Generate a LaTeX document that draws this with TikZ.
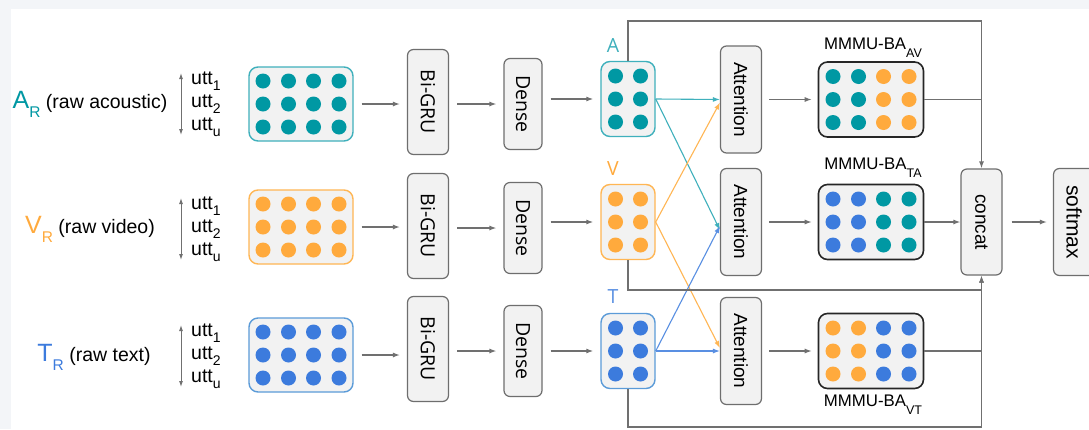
\documentclass[tikz,border=0pt]{standalone}
\usepackage{fontspec}
\setmainfont{Liberation Sans}
\newfontfamily\osans{Open Sans}
\usepackage{graphicx}
\usetikzlibrary{positioning}
\usetikzlibrary{arrows.meta}
\usetikzlibrary{calc}

\definecolor{bggray}{HTML}{F3F5F8}
\definecolor{boxfill}{HTML}{F2F2F2}
\definecolor{boxgray}{HTML}{6E6E6E}
\definecolor{linegray}{HTML}{707070}
\definecolor{tealc}{HTML}{0098A3}
\definecolor{orangec}{HTML}{FFAA3D}
\definecolor{bluec}{HTML}{3C7BDD}
\definecolor{tealb}{HTML}{3FB0BC}
\definecolor{orangeb}{HTML}{FFB654}
\definecolor{blueb}{HTML}{5B9BD8}

\newcommand{\vtext}[1]{\rotatebox{-90}{#1}}
\newcommand{\modal}[2]{\textcolor{#1}{\fontsize{25}{25}\selectfont #2\raisebox{-9pt}{\fontsize{15.5}{16}\selectfont R}}}
\newcommand{\utt}[1]{utt\raisebox{-6pt}{\fontsize{14}{14}\selectfont #1}}
\newcommand{\mmmu}[1]{MMMU-BA\raisebox{-8pt}{\fontsize{12.5}{13}\selectfont #1}}
\newcommand{\dotgrid}[2]{%
  \foreach \dx/\dcol in {#2}
    \foreach \dy in {-23,0,23}
      \fill[\dcol] ([shift={(\dx,\dy)}]#1.center) circle (7.5pt);
}

\tikzset{
  layer/.style={draw=boxgray, fill=boxfill, line width=1.2pt, rounded corners=6pt,
    minimum width=41pt, minimum height=105pt, inner sep=0pt,
    font=\fontsize{19}{20}\selectfont},
  inmat/.style={fill=boxfill, line width=1.4pt, rounded corners=9pt,
    minimum width=104pt, minimum height=74pt, inner sep=0pt},
  smallmat/.style={inmat, minimum width=54pt, minimum height=75pt},
  bamat/.style={inmat, draw=black!85, line width=1.6pt, minimum width=105pt, minimum height=75pt},
  flow/.style={draw=linegray, line width=1.2pt, -{Latex[length=7pt,width=5pt]},
    shorten <=8pt, shorten >=7pt},
  skip/.style={draw=linegray, line width=1.2pt, -{Latex[length=7pt,width=5pt]}},
  cross/.style={line width=1.1pt, -{Latex[length=7pt,width=5pt]}},
  both/.style={draw=linegray, line width=1pt, {Latex[length=6pt,width=4pt]}-{Latex[length=6pt,width=4pt]}},
  inlabel/.style={anchor=base, inner sep=0pt, font=\fontsize{19.5}{22}\selectfont},
  uttlabel/.style={anchor=base west, inner sep=0pt, font=\fontsize{19.5}{22}\selectfont},
  modlabel/.style={anchor=base, inner sep=0pt, font=\osans\fontsize{19.5}{22}\selectfont},
  balabel/.style={anchor=base, inner sep=0pt, font=\fontsize{16.8}{18}\selectfont}
}

\begin{document}
\begin{tikzpicture}[x=1pt,y=-1pt]
\useasboundingbox (0,0) rectangle (1089,429);
\fill[bggray] (0,0) rectangle (1089,429);
\fill[white] (11,9) rectangle (1089,429);

% raw inputs
\node[inlabel] (labA) at (90,108) {\modal{tealc}{A} (raw acoustic)};
\node[inlabel] (labV) at (90,233) {\modal{orangec}{V} (raw video)};
\node[inlabel] (labT) at (94,361) {\modal{bluec}{T} (raw text)};

\foreach \r/\y in {A/104,V/229,T/356}{
  \coordinate (up\r) at (181,\y-31);
  \coordinate (dn\r) at (181,\y+31);
  \draw[both] (up\r) -- (dn\r);
  \node[uttlabel] at (191,\y-20) {\utt{1}};
  \node[uttlabel] at (191,\y+3) {\utt{2}};
  \node[uttlabel] at (191,\y+26) {\utt{u}};
}

\node[inmat, draw=tealb] (inA) at (301,104) {};
\node[inmat, draw=orangeb] (inV) at (301,227) {};
\node[inmat, draw=blueb] (inT) at (301,355) {};
\dotgrid{inA}{-38/tealc,-12.5/tealc,12.5/tealc,38/tealc}
\dotgrid{inV}{-38/orangec,-12.5/orangec,12.5/orangec,38/orangec}
\dotgrid{inT}{-38/bluec,-12.5/bluec,12.5/bluec,38/bluec}

% Bi-GRU and Dense
\node[layer, font=\osans\fontsize{19.5}{20}\selectfont] (gruA) at (428,102) {\vtext{Bi-GRU}};
\node[layer, font=\osans\fontsize{19.5}{20}\selectfont] (gruV) at (428,226) {\vtext{Bi-GRU}};
\node[layer, font=\osans\fontsize{19.5}{20}\selectfont] (gruT) at (428,349) {\vtext{Bi-GRU}};
\node[layer, minimum width=38pt, minimum height=91pt, font=\osans\fontsize{19.5}{20}\selectfont] (denA) at (523,104) {\vtext{Dense}};
\node[layer, minimum width=38pt, minimum height=91pt, font=\osans\fontsize{19.5}{20}\selectfont] (denV) at (523,228) {\vtext{Dense}};
\node[layer, minimum width=38pt, minimum height=91pt, font=\osans\fontsize{19.5}{20}\selectfont] (denT) at (523,351) {\vtext{Dense}};

\node[smallmat, draw=tealb] (sA) at (628,99) {};
\node[smallmat, draw=orangeb] (sV) at (628,222) {};
\node[smallmat, draw=blueb] (sT) at (628,351) {};
\dotgrid{sA}{-12.5/tealc,12.5/tealc}
\dotgrid{sV}{-12.5/orangec,12.5/orangec}
\dotgrid{sT}{-12.5/bluec,12.5/bluec}
\node[modlabel, text=tealb] at (613,52) {A};
\node[modlabel, text=orangec] at (613,175) {V};
\node[modlabel, text=bluec!85] at (613,303) {T};

\foreach \r in {A,V,T}{
  \draw[flow] (in\r.east) -- (in\r.east -| gru\r.west);
  \draw[flow] (den\r.west -| gru\r.east) -- (den\r.west);
  \draw[flow] (s\r.west -| den\r.east) -- (s\r.west);
}

% attention
\node[layer, minimum height=107pt] (attA) at (741,99.5) {\vtext{Attention}};
\node[layer, minimum height=107pt] (attV) at (741,222) {\vtext{Attention}};
\node[layer, minimum height=107pt] (attT) at (741,351) {\vtext{Attention}};

\draw[cross, tealb] (sA.east) -- (attA.west);
\draw[cross, tealb] (sA.east) -- ([yshift=-8pt]attV.west);
\draw[cross, orangeb] (sV.east) -- ([yshift=-3pt]attA.west);
\draw[cross, orangeb] (sV.east) -- ([yshift=3pt]attT.west);
\draw[cross, bluec!85] (sT.east) -- ([yshift=-4pt]attV.west);
\draw[cross, bluec!85] (sT.east) -- (attT.west);

% MMMU-BA
\node[bamat] (mAV) at (871,99.5) {};
\node[bamat] (mTA) at (871,222) {};
\node[bamat] (mVT) at (871,351) {};
\dotgrid{mAV}{-38/tealc,-12.5/tealc,12.5/orangec,38/orangec}
\dotgrid{mTA}{-38/bluec,-12.5/bluec,12.5/tealc,38/tealc}
\dotgrid{mVT}{-38/orangec,-12.5/orangec,12.5/bluec,38/bluec}
\node[balabel] at (873,49) {\mmmu{AV}};
\node[balabel] at (873,169) {\mmmu{TA}};
\node[balabel] at (873,406) {\mmmu{VT}};

\draw[flow, shorten <=7pt, shorten >=6pt] (attA.east) -- (attA.east -| mAV.west);
\draw[flow, shorten <=7pt, shorten >=6pt] (attV.east) -- (attV.east -| mTA.west);
\draw[flow, shorten <=7pt, shorten >=6pt] (attT.east) -- (attT.east -| mVT.west);

% fusion
\node[layer, minimum height=106pt] (concat) at (981.5,222) {\vtext{concat}};
\node[layer, minimum height=107pt, font=\fontsize{21}{22}\selectfont] (soft) at (1074,222) {\vtext{softmax}};

\coordinate (cTop) at (981.5,21);
\coordinate (cMid) at (981.5,290);
\coordinate (cBot) at (981.5,427);
\draw[skip] (sA.north) |- (cTop) -- (concat.north);
\draw[skip] (sV.south) |- (cMid) -- (concat.south);
\draw[skip] (sT.south) |- (cBot) -- (concat.south);
\draw[skip, -] (mAV.east) -- (mAV.east -| concat.north);
\draw[skip, -] (mVT.east) -- (mVT.east -| concat.south);
\draw[skip] (mTA.east) -- (concat.west);
\draw[flow, shorten <=9pt, shorten >=6pt] (concat.east) -- (soft.west);
\end{tikzpicture}
\end{document}
